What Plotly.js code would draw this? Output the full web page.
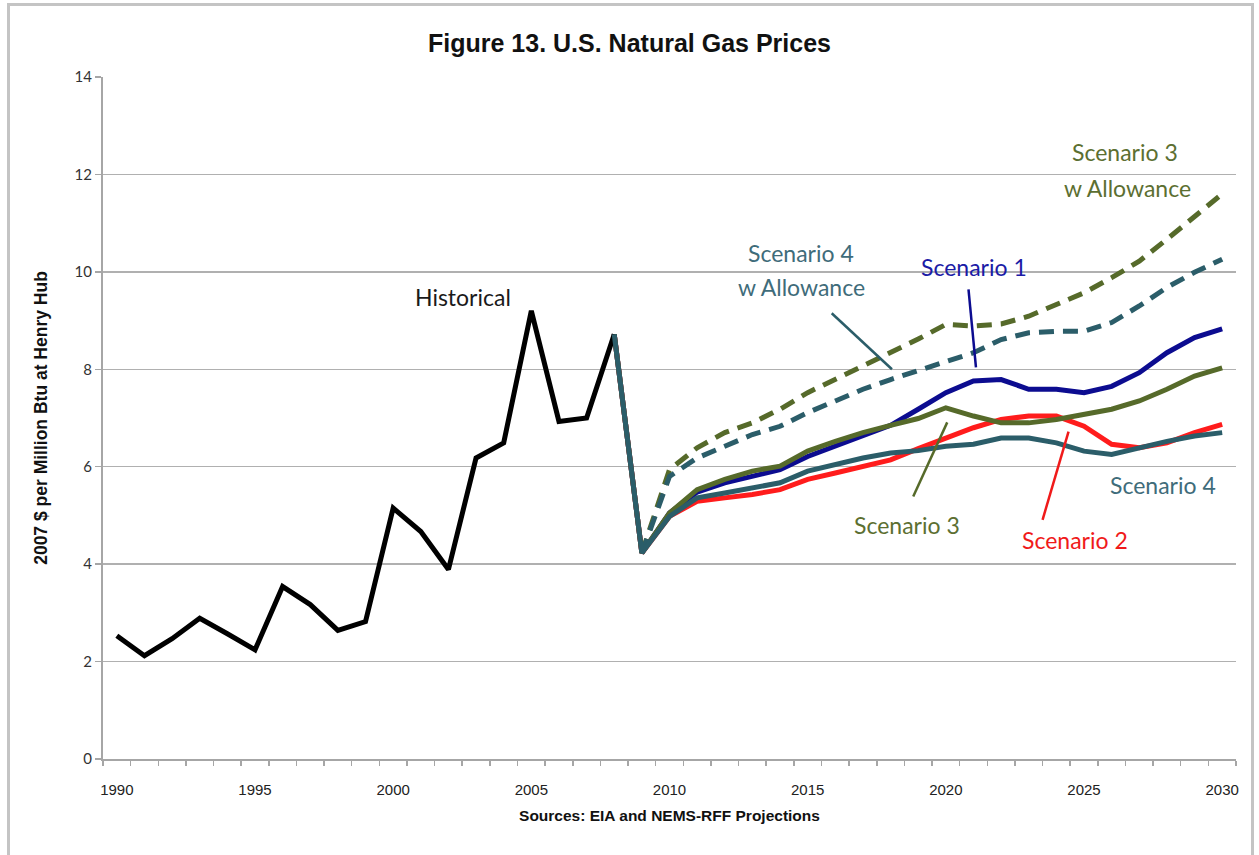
<!DOCTYPE html>
<html>
<head>
<meta charset="utf-8">
<script src="https://cdn.plot.ly/plotly-3.0.1.min.js"></script>
<style>
  html, body { margin: 0; padding: 0; background: #fff; }
  #wrap { position: relative; width: 1259px; height: 855px; overflow: hidden; }
  #chart { position: absolute; left: 0; top: 0; width: 1259px; height: 855px; }
  #frame { position: absolute; left: 7px; top: 3px; width: 1247px; height: 900px;
           border: 3px solid #c4c4c4; pointer-events: none; box-sizing: border-box; }
</style>
</head>
<body>
<div id="wrap"><div id="chart"></div><div id="frame"></div></div>
<script>
// ---- data ----
const histYears = [1990,1991,1992,1993,1994,1995,1996,1997,1998,1999,2000,2001,2002,2003,2004,2005,2006,2007,2008];
const historical = [2.53,2.12,2.47,2.89,2.57,2.24,3.54,3.17,2.64,2.82,5.15,4.67,3.89,6.18,6.49,9.20,6.93,7.00,8.72];

const projYears = [2008,2009,2010,2011,2012,2013,2014,2015,2016,2017,2018,2019,2020,2021,2022,2023,2024,2025,2026,2027,2028,2029,2030];
const scenario1 = [8.72,4.23,5.05,5.48,5.67,5.80,5.94,6.21,6.42,6.63,6.85,7.18,7.52,7.76,7.79,7.59,7.59,7.52,7.65,7.93,8.34,8.65,8.83];
const scenario2 = [8.72,4.23,4.98,5.29,5.36,5.43,5.53,5.74,5.87,6.01,6.14,6.37,6.59,6.80,6.97,7.04,7.04,6.83,6.46,6.39,6.49,6.70,6.87];
const scenario3 = [8.72,4.23,5.05,5.53,5.74,5.91,6.01,6.32,6.52,6.70,6.85,6.99,7.21,7.04,6.90,6.90,6.97,7.07,7.18,7.35,7.59,7.86,8.03];
const scenario4 = [8.72,4.23,4.98,5.36,5.46,5.57,5.67,5.91,6.04,6.18,6.28,6.33,6.42,6.46,6.59,6.59,6.49,6.32,6.25,6.39,6.52,6.63,6.70];

const allowYears = [2009,2010,2011,2012,2013,2014,2015,2016,2017,2018,2019,2020,2021,2022,2023,2024,2025,2026,2027,2028,2029,2030];
const scenario3Allow = [4.23,5.94,6.39,6.70,6.90,7.18,7.52,7.79,8.07,8.34,8.62,8.92,8.89,8.93,9.09,9.33,9.57,9.88,10.22,10.67,11.15,11.60];
const scenario4Allow = [4.23,5.80,6.18,6.42,6.66,6.83,7.11,7.35,7.59,7.79,7.98,8.17,8.34,8.61,8.75,8.78,8.78,8.96,9.30,9.68,9.99,10.26];

const xTickVals = [1990,1995,2000,2005,2010,2015,2020,2025,2030];
const xTickText = ['1990','1995','2000','2005','2010','2015','2020','2025','2030'];
const yTickVals = [0,2,4,6,8,10,12,14];

// ---- styles ----
const C_BLACK = '#000000';
const C_BLUE = '#0c0c90';
const C_RED = '#ff1c1c';
const C_OLIVE = '#566a2a';
const C_TEAL = '#2b5d69';
const T_TEAL = '#3f6c7a';
const T_OLIVE = '#5c6f31';
const T_BLUE = '#1b1ba6';
const T_RED = '#f01a1a';
const LW = 5;
const DASH = '15px,9px';
const ANN_FONT = 'Lato, "Open Sans", sans-serif';
const NARROW = '"Liberation Sans Narrow", "Arial Narrow", sans-serif';

const traces = [
  {x: projYears, y: scenario1, name: 'Scenario 1', mode: 'lines', line: {color: C_BLUE, width: LW}},
  {x: projYears, y: scenario2, name: 'Scenario 2', mode: 'lines', line: {color: C_RED, width: LW}},
  {x: projYears, y: scenario3, name: 'Scenario 3', mode: 'lines', line: {color: C_OLIVE, width: LW}},
  {x: allowYears, y: scenario3Allow, name: 'Scenario 3 w Allowance', mode: 'lines', line: {color: C_OLIVE, width: LW, dash: DASH}},
  {x: allowYears, y: scenario4Allow, name: 'Scenario 4 w Allowance', mode: 'lines', line: {color: C_TEAL, width: LW, dash: DASH}},
  {x: histYears, y: historical, name: 'Historical', mode: 'lines', line: {color: C_BLACK, width: LW}},
  {x: projYears, y: scenario4, name: 'Scenario 4', mode: 'lines', line: {color: C_TEAL, width: LW}}
];

// minor ticks at category boundaries
const boundaries = [];
for (let i = 0; i <= 41; i++) boundaries.push(1989.5 + i);

function txt(text, x, y, color) {
  return {text: text, x: x, y: y, xref: 'x', yref: 'y', showarrow: false,
          font: {family: ANN_FONT, size: 23, color: color}, align: 'center'};
}
function pointer(x0, y0, x1, y1, color) {
  return {type: 'line', xref: 'x', yref: 'y', x0: x0, y0: y0, x1: x1, y1: y1,
          line: {color: color, width: 2.5}};
}

const layout = {
  width: 1259, height: 855,
  paper_bgcolor: '#ffffff', plot_bgcolor: '#ffffff',
  margin: {l: 103, r: 23, t: 77, b: 96},
  showlegend: false,
  title: {text: '<b>Figure 13. U.S. Natural Gas Prices</b>', x: 0.5, xanchor: 'center', y: 0.949, yanchor: 'middle',
          font: {family: NARROW, size: 25, color: '#111'}},
  xaxis: {
    range: [1989.5, 2030.5], tickmode: 'array', tickvals: xTickVals, ticktext: xTickText,
    ticks: '', showgrid: false, zeroline: false,
    showline: true, linecolor: '#a6a6a6', linewidth: 2,
    tickfont: {family: NARROW, size: 15, color: '#222'},
    ticklabelstandoff: 16,
    minor: {tickmode: 'array', tickvals: boundaries, ticks: 'outside', ticklen: 5, tickcolor: '#a6a6a6', tickwidth: 1.5, showgrid: false},
    title: {text: '<b>Sources: EIA and NEMS-RFF Projections</b>', standoff: 13,
            font: {family: NARROW, size: 15.5, color: '#111'}}
  },
  yaxis: {
    range: [0, 14], tickmode: 'array', tickvals: yTickVals,
    ticks: 'outside', ticklen: 6, tickcolor: '#a6a6a6', tickwidth: 1.5,
    showgrid: true, gridcolor: '#b0b0b0', gridwidth: 1.5, zeroline: false,
    showline: true, linecolor: '#a6a6a6', linewidth: 2,
    tickfont: {family: ANN_FONT, size: 15, color: '#333'},
    title: {text: '<b>2007 $ per Million Btu at Henry Hub</b>', standoff: 22,
            font: {family: NARROW, size: 17.5, color: '#111'}}
  },
  annotations: [
    txt('Historical', 2002.54, 9.48, '#1a1a1a'),
    txt('Scenario 4', 2014.76, 10.38, T_TEAL),
    txt('w Allowance', 2014.76, 9.68, T_TEAL),
    txt('Scenario 1', 2021.02, 10.09, T_BLUE),
    txt('Scenario 3', 2026.49, 12.46, T_OLIVE),
    txt('w Allowance', 2026.56, 11.72, T_OLIVE),
    txt('Scenario 3', 2018.6, 4.81, T_OLIVE),
    txt('Scenario 2', 2024.69, 4.50, T_RED),
    txt('Scenario 4', 2027.86, 5.63, T_TEAL)
  ],
  shapes: [
    pointer(2015.87, 9.15, 2018.05, 8.0, C_TEAL),
    pointer(2020.82, 9.64, 2021.09, 8.04, C_BLUE),
    pointer(2018.82, 5.39, 2020.05, 6.91, C_OLIVE),
    pointer(2023.5, 4.91, 2024.44, 6.72, T_RED)
  ]
};

Plotly.newPlot('chart', traces, layout, {displayModeBar: false, staticPlot: true});
</script>
</body>
</html>
